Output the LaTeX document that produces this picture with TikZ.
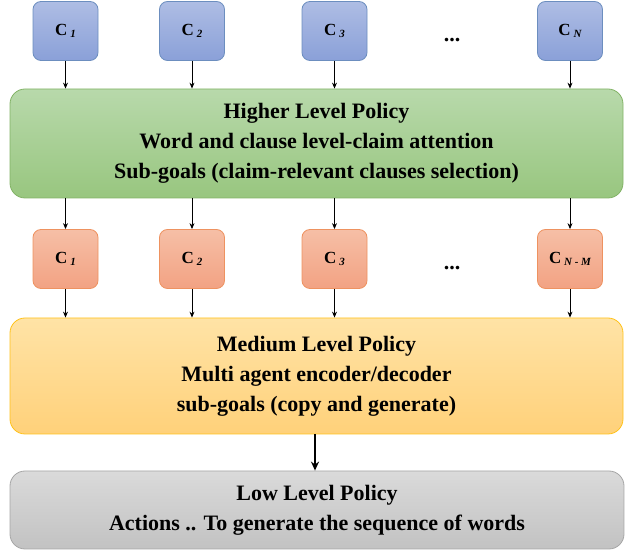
\documentclass[tikz,border=0pt]{standalone}
\usepackage{fontspec}
\setmainfont{Liberation Serif}
\usetikzlibrary{arrows.meta}
\newcommand{\clause}[1]{C\,\raisebox{-1.5pt}{\fontsize{11}{11}\selectfont\itshape #1}}
\begin{document}
\begin{tikzpicture}[x=1pt,y=-1pt,
  cbox/.style={rounded corners=8pt, minimum width=65pt, minimum height=59pt,
    inner sep=0pt, line width=0.8pt, font=\fontsize{17}{19}\selectfont\bfseries},
  bluebox/.style={cbox, draw=blueline, top color=bluetop, bottom color=bluebot},
  orangebox/.style={cbox, draw=orangeline, top color=orangetop, bottom color=orangebot},
  policy/.style={rounded corners=15pt, inner sep=0pt, line width=0.8pt, align=center,
    font=\fontsize{22}{30}\selectfont\bfseries},
  arr/.style={-{Stealth[length=6pt,width=5pt]}, line width=0.8pt},
  bigarr/.style={-{Stealth[length=9pt,width=8pt]}, line width=2pt},
  dots/.style={font=\fontsize{22}{22}\selectfont\bfseries}
]
\definecolor{bluetop}{HTML}{AEBDE4}
\definecolor{bluebot}{HTML}{8AA0D8}
\definecolor{blueline}{HTML}{6C8EBF}
\definecolor{orangetop}{HTML}{F6BFA6}
\definecolor{orangebot}{HTML}{F2A283}
\definecolor{orangeline}{HTML}{EE9260}
\definecolor{greentop}{HTML}{B8D9AB}
\definecolor{greenbot}{HTML}{98C67F}
\definecolor{greenline}{HTML}{82B366}
\definecolor{yellowtop}{HTML}{FFE3A6}
\definecolor{yellowbot}{HTML}{FFD17A}
\definecolor{yellowline}{HTML}{FFC21A}
\definecolor{graytop}{HTML}{DADADA}
\definecolor{graybot}{HTML}{C2C2C2}
\definecolor{grayline}{HTML}{A6A6A6}

\useasboundingbox (0,0) rectangle (625,553);

% top row of clause nodes
\node[bluebox] (b1) at (65.5,31) {\clause{1}};
\node[bluebox] (b2) at (192,31) {\clause{2}};
\node[bluebox] (b3) at (334.5,31) {\clause{3}};
\node[bluebox] (bN) at (570,31) {\clause{N}};
\node[dots] (d1) at (452,40) {...};

% higher level policy
\node[policy, draw=greenline, top color=greentop, bottom color=greenbot,
  minimum width=613pt, minimum height=109pt] (high) at (316.5,143.5)
  {Higher Level Policy\\Word and clause level-claim attention\\Sub-goals (claim-relevant clauses selection)};

% selected clauses
\node[orangebox] (o1) at (65.5,259) {\clause{1}};
\node[orangebox] (o2) at (192,259) {\clause{2}};
\node[orangebox] (o3) at (334.5,259) {\clause{3}};
\node[orangebox] (oN) at (570,259) {\clause{N - M}};
\node[dots] (d2) at (452,268) {...};

% medium level policy
\node[policy, draw=yellowline, top color=yellowtop, bottom color=yellowbot,
  minimum width=613pt, minimum height=116pt] (mid) at (316.5,376)
  {Medium Level Policy\\Multi agent encoder/decoder\\sub-goals (copy and generate)};

% low level policy
\node[policy, draw=grayline, top color=graytop, bottom color=graybot,
  minimum width=614pt, minimum height=78pt] (low) at (317,510)
  {Low Level Policy\\Actions .. To generate the sequence of words};

% connectors
\foreach \n in {b1,b2,b3,bN} \draw[arr] (\n) -- (\n |- high.north);
\foreach \n in {o1,o2,o3,oN} \draw[arr] (\n |- high.south) -- (\n);
\foreach \n in {o1,o2,o3,oN} \draw[arr] (\n) -- (\n |- mid.north);
\draw[bigarr] (mid.south -| 315,0) -- (low.north -| 315,0);
\end{tikzpicture}
\end{document}
